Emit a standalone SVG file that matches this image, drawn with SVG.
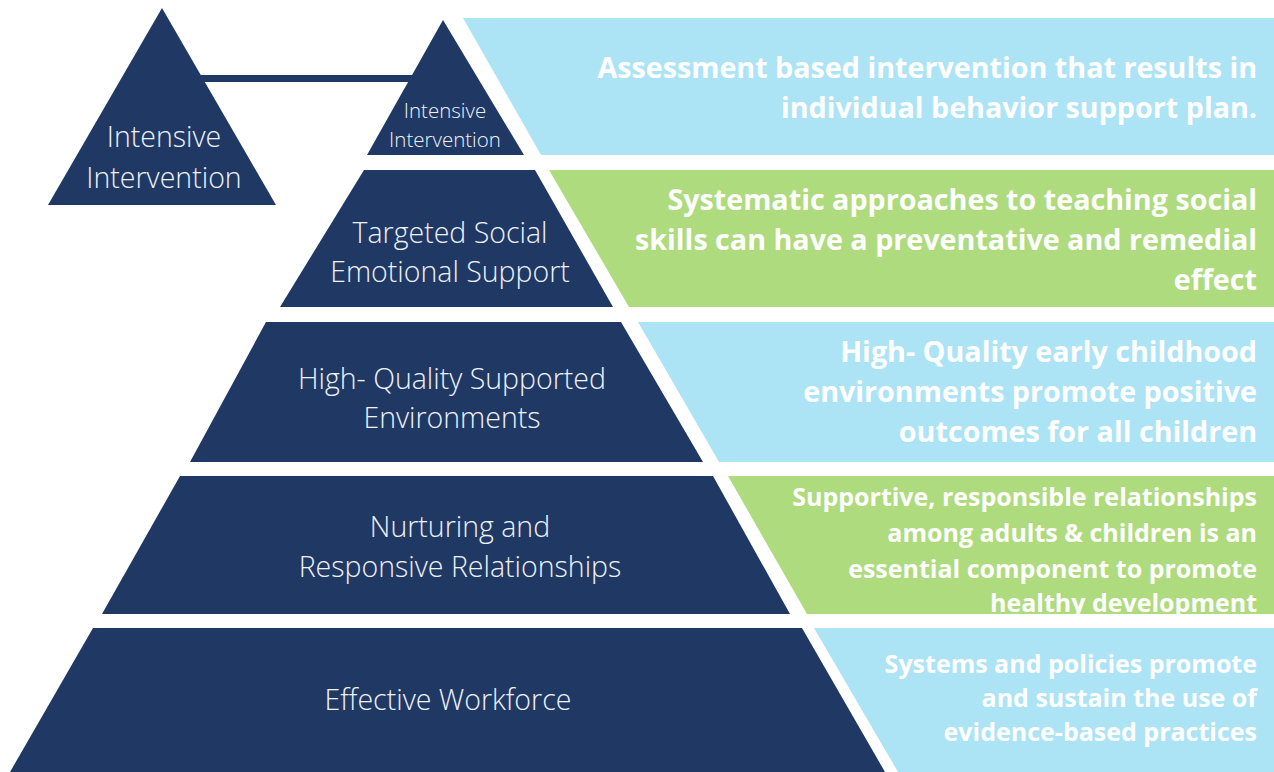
<svg xmlns="http://www.w3.org/2000/svg" width="1274" height="772" viewBox="0 0 1274 772">
<style>
.tier{fill:#203864}
.blue{fill:#ade4f5}
.green{fill:#aedb7e}
.lt{font-family:"Open Sans","Noto Sans","Liberation Sans",sans-serif;font-weight:300;fill:#eef2f7;text-anchor:middle}
.bd{font-family:"Open Sans","Noto Sans","Liberation Sans",sans-serif;font-weight:700;fill:#ffffff;text-anchor:end}
</style>
<rect width="1274" height="772" fill="#ffffff"/>
<g id="connectors">
<rect x="195" y="75" width="222" height="7" class="tier"/>
</g>
<g id="node-intensive-left">
<polygon class="tier" points="162,8 276,205 48,205"/>
<text class="lt" font-size="28.5" x="164" y="147">Intensive</text>
<text class="lt" font-size="28.5" x="164" y="188">Intervention</text>
</g>
<g id="node-tier1">
<polygon class="tier" points="443,20 524,155 367,155"/>
<text class="lt" font-size="20.5" x="445" y="118">Intensive</text>
<text class="lt" font-size="20.5" x="445" y="147">Intervention</text>
</g>
<g id="node-band1">
<polygon class="blue" points="463,18 1274,18 1274,155 541,155"/>
<text class="bd" font-size="28.7" x="1257" y="78">Assessment based intervention that results in</text>
<text class="bd" font-size="28.7" x="1257" y="118">individual behavior support plan.</text>
</g>
<g id="node-tier2">
<polygon class="tier" points="364,170 535,170 613,307 280,307"/>
<text class="lt" font-size="28.5" x="450" y="243">Targeted Social</text>
<text class="lt" font-size="28.5" x="450" y="282">Emotional Support</text>
</g>
<g id="node-band2">
<polygon class="green" points="549,170 1274,170 1274,307 629,307"/>
<text class="bd" font-size="28.7" x="1257" y="210">Systematic approaches to teaching social</text>
<text class="bd" font-size="28.7" x="1257" y="250">skills can have a preventative and remedial</text>
<text class="bd" font-size="28.7" x="1257" y="290">effect</text>
</g>
<g id="node-tier3">
<polygon class="tier" points="266,322 621,322 703,462 190,462"/>
<text class="lt" font-size="28.5" x="452" y="389">High- Quality Supported</text>
<text class="lt" font-size="28.5" x="452" y="428">Environments</text>
</g>
<g id="node-band3">
<polygon class="blue" points="638,322 1274,322 1274,462 719,462"/>
<text class="bd" font-size="28.7" x="1257" y="362">High- Quality early childhood</text>
<text class="bd" font-size="28.7" x="1257" y="402">environments promote positive</text>
<text class="bd" font-size="28.7" x="1257" y="442">outcomes for all children</text>
</g>
<g id="node-tier4">
<polygon class="tier" points="180,476 713,476 790,614 102,614"/>
<text class="lt" font-size="28.5" x="460" y="537">Nurturing and</text>
<text class="lt" font-size="28.5" x="460" y="577">Responsive Relationships</text>
</g>
<g id="node-band4">
<polygon class="green" points="728,476 1274,476 1274,614 807,614"/>
<text class="bd" font-size="25" x="1257" y="506">Supportive, responsible relationships</text>
<text class="bd" font-size="25" x="1257" y="542">among adults &amp; children is an</text>
<text class="bd" font-size="25" x="1257" y="578">essential component to promote</text>
<text class="bd" font-size="25" x="1257" y="612">healthy development</text>
</g>
<g id="node-tier5">
<polygon class="tier" points="93,628 802,628 885,772 10,772"/>
<text class="lt" font-size="28.5" x="448" y="710">Effective Workforce</text>
</g>
<g id="node-band5">
<polygon class="blue" points="814,628 1274,628 1274,772 898,772"/>
<text class="bd" font-size="25" x="1257" y="673">Systems and policies promote</text>
<text class="bd" font-size="25" x="1257" y="707">and sustain the use of</text>
<text class="bd" font-size="25" x="1257" y="741">evidence-based practices</text>
</g>
</svg>
